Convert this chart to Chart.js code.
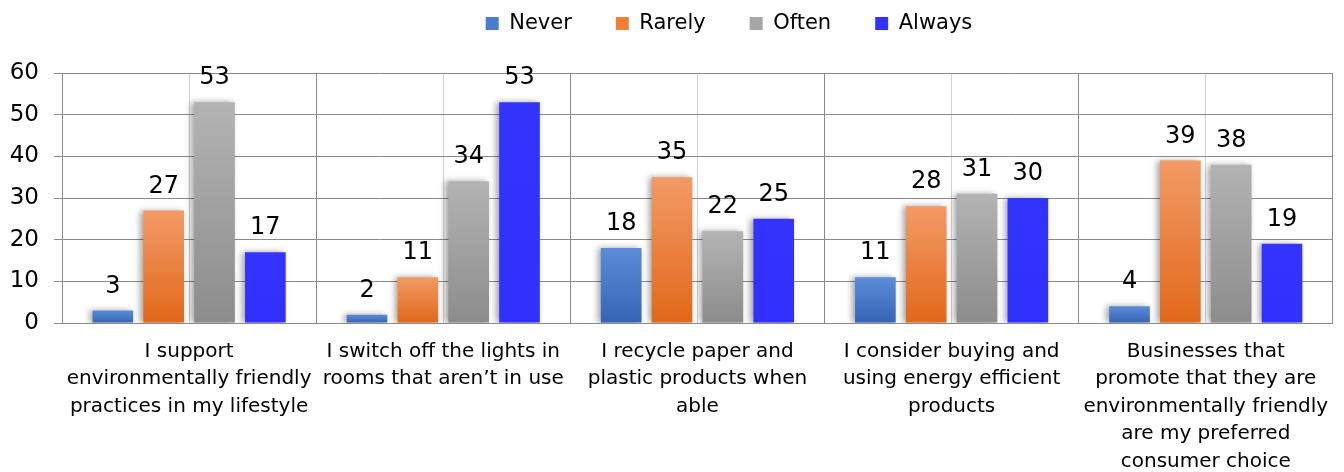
<!DOCTYPE html>
<html>
<head>
<meta charset="utf-8">
<script src="https://cdn.jsdelivr.net/npm/chart.js@4.4.1/dist/chart.umd.min.js"></script>
<style>
  html, body { margin: 0; padding: 0; background: #fff; }
  #wrap { width: 1344px; height: 472px; position: relative; }
</style>
</head>
<body>
<div id="wrap"><canvas id="grafico"></canvas></div>
<script>
const categorias = [
    ['I support', 'environmentally friendly', 'practices in my lifestyle'],
    ['I switch off the lights in', 'rooms that aren\u2019t in use'],
    ['I recycle paper and', 'plastic products when', 'able'],
    ['I consider buying and', 'using energy efficient', 'products'],
    ['Businesses that', 'promote that they are', 'environmentally friendly', 'are my preferred', 'consumer choice']
];
const series = ['Never', 'Rarely', 'Often', 'Always'];
const valoresNever = [3, 2, 18, 11, 4];
const valoresRarely = [27, 11, 35, 28, 39];
const valoresOften = [53, 34, 22, 31, 38];
const valoresAlways = [17, 53, 25, 30, 19];
const ticksY = [0, 10, 20, 30, 40, 50, 60];

// colores: [arriba, abajo] del degradado de cada barra
const degradados = [
    ['#5c8cd8', '#3564b6'],
    ['#f29a66', '#e2681a'],
    ['#b3b3b3', '#8c8c8c'],
    ['#3434ff', '#3030ff']
];
const coloresLeyenda = ['#4a7bcc', '#ef8034', '#a6a6a6', '#3333ff'];
const fuente = 'DejaVu Sans';

function colorBarra(indice) {
    return (context) => {
        const chart = context.chart;
        const y = chart.scales.y;
        if (!y || context.type !== 'data') {
            return coloresLeyenda[indice];
        }
        const arriba = y.getPixelForValue(context.raw);
        const base = y.getPixelForValue(0);
        if (!isFinite(arriba) || !isFinite(base) || arriba === base) {
            return coloresLeyenda[indice];
        }
        const g = chart.ctx.createLinearGradient(0, arriba, 0, base);
        g.addColorStop(0, degradados[indice][0]);
        g.addColorStop(1, degradados[indice][1]);
        return g;
    };
}

const valores = [valoresNever, valoresRarely, valoresOften, valoresAlways];
const datasets = series.map((nombre, i) => ({
    label: nombre,
    data: valores[i],
    backgroundColor: colorBarra(i),
    borderWidth: 0,
    categoryPercentage: 0.8,
    barPercentage: 0.8
}));

const sombraBarras = {
    id: 'sombraBarras',
    beforeDatasetsDraw(chart) {
        const ctx = chart.ctx;
        ctx.save();
        ctx.shadowColor = 'rgba(0,0,0,0.35)';
        ctx.shadowBlur = 6;
        ctx.shadowOffsetX = -3;
        ctx.shadowOffsetY = 0;
    },
    afterDatasetsDraw(chart) {
        chart.ctx.restore();
    }
};

const etiquetasValor = {
    id: 'etiquetasValor',
    afterDatasetsDraw(chart) {
        const ctx = chart.ctx;
        ctx.save();
        ctx.font = '24px "' + fuente + '"';
        ctx.fillStyle = '#000';
        ctx.textAlign = 'center';
        ctx.textBaseline = 'alphabetic';
        chart.data.datasets.forEach((ds, i) => {
            const meta = chart.getDatasetMeta(i);
            meta.data.forEach((barra, j) => {
                ctx.fillText(String(ds.data[j]), barra.x, barra.y - 18);
            });
        });
        ctx.restore();
    }
};

const ajusteLeyenda = {
    id: 'ajusteLeyenda',
    beforeInit(chart) {
        const leyenda = chart.legend;
        const fitOriginal = leyenda.fit.bind(leyenda);
        leyenda.fit = function () {
            fitOriginal();
            this.height = 73;
        };
    },
    afterLayout(chart) {
        const leyenda = chart.legend;
        leyenda.left += 61;
        leyenda.right += 61;
        leyenda.top = -31;
    }
};

new Chart(document.querySelector('#grafico'), {
    type: 'bar',
    data: { labels: categorias, datasets },
    plugins: [sombraBarras, etiquetasValor, ajusteLeyenda],
    options: {
        responsive: true,
        maintainAspectRatio: false,
        animation: false,
        layout: { padding: { left: 0, right: 8, top: 0, bottom: 0 } },
        plugins: {
            tooltip: { enabled: false },
            legend: {
                position: 'top',
                labels: {
                    font: { family: fuente, size: 21 },
                    color: '#000',
                    boxWidth: 13,
                    boxHeight: 13,
                    padding: 44,
                    generateLabels(chart) {
                        const items = Chart.defaults.plugins.legend.labels.generateLabels(chart);
                        items.forEach((item, i) => {
                            item.fillStyle = coloresLeyenda[i];
                            item.strokeStyle = coloresLeyenda[i];
                            item.lineWidth = 0;
                        });
                        return items;
                    }
                }
            }
        },
        scales: {
            x: {
                offset: true,
                grid: { offset: true, color: '#8a8a8a', drawTicks: false },
                border: { color: '#8a8a8a' },
                ticks: {
                    color: '#000',
                    font: { family: fuente, size: 20, lineHeight: 1.37 },
                    padding: 15,
                    autoSkip: false,
                    maxRotation: 0,
                    minRotation: 0
                },
                afterFit(scale) { scale.height = 149; }
            },
            x2: {
                type: 'category',
                position: 'bottom',
                offset: true,
                grid: { offset: false, color: '#d2d2d2', drawTicks: false },
                border: { display: false },
                ticks: { display: false },
                afterFit(scale) { scale.height = 0; }
            },
            y: {
                min: ticksY[0],
                max: ticksY[ticksY.length - 1],
                afterBuildTicks(scale) {
                    scale.ticks = ticksY.map(v => ({ value: v }));
                },
                grid: { color: '#8a8a8a', tickLength: 8 },
                border: { color: '#8a8a8a' },
                ticks: {
                    color: '#000',
                    font: { family: fuente, size: 23 },
                    padding: 15
                },
                afterFit(scale) { scale.width = 62; }
            }
        }
    }
});
</script>
</body>
</html>
